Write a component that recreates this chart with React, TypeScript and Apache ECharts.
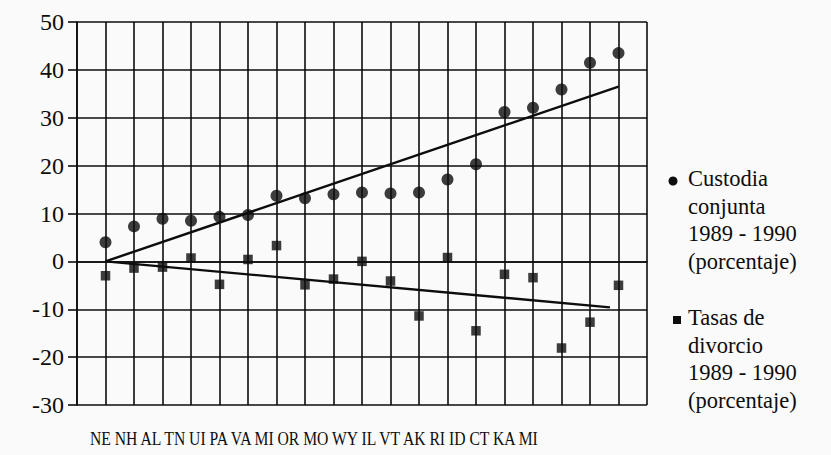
import React, { useEffect, useRef } from "react";
import * as echarts from "echarts";

const categories = ["NE", "NH", "AL", "TN", "UI", "PA", "VA", "MI", "OR", "MO", "WY", "IL", "VT", "AK", "RI", "ID", "CT", "KA", "MI"];
const custodia = [4.0, 7.3, 8.9, 8.5, 9.3, 9.7, 13.7, 13.2, 14.0, 14.4, 14.2, 14.4, 17.1, 20.3, 31.2, 32.1, 35.9, 41.5, 43.5];
const divorcio = [-3.0, -1.4, -1.2, 0.7, -4.8, 0.4, 3.3, -4.9, -3.7, 0.0, -4.1, -11.4, 0.8, -14.5, -2.7, -3.4, -18.1, -12.7, -5.0];
const custodiaTrend = [[1, 0], [19, 36.5]];
const divorcioTrend = [[1, 0], [18.7, -9.6]];
const yMin = -30;
const yMax = 50;
const yStep = 10;
const legendCustodia = ["Custodia", "conjunta", "1989 - 1990", "(porcentaje)"];
const legendDivorcio = ["Tasas de", "divorcio", "1989 - 1990", "(porcentaje)"];

const FONT2 = "'Liberation Serif', 'Times New Roman', serif";
const INK = "#0d0d0d";

export default function App() {
  const ref = useRef<HTMLDivElement>(null);
  useEffect(() => {
    if (!ref.current) return;
    const chart = echarts.init(ref.current, undefined, { renderer: "svg" });
    const lineH = 27.5;
    const legendText = (lines: string[], top: number) =>
      lines.map((t, i) => ({
        type: "text",
        left: 688,
        top: top + i * lineH,
        style: { text: t, fontFamily: FONT2, fontSize: 22.5, fill: INK },
      }));
    chart.setOption({
      animation: false,
      backgroundColor: "#fafafa",
      grid: { left: 77, right: 184, top: 22, bottom: 50 },
      xAxis: {
        type: "value",
        min: 0,
        max: categories.length + 1,
        interval: 1,
        axisLine: { show: true, lineStyle: { color: INK, width: 1.6 } },
        axisTick: { show: false },
        axisLabel: { show: false },
        splitLine: { show: true, lineStyle: { color: INK, width: 1.6 } },
      },
      yAxis: {
        type: "value",
        min: yMin,
        max: yMax,
        interval: yStep,
        axisLine: { show: true, lineStyle: { color: INK, width: 1.6 } },
        axisTick: { show: true, length: 9, lineStyle: { color: INK, width: 1.6 } },
        axisLabel: { margin: 13, fontFamily: FONT2, fontSize: 24, color: INK },
        splitLine: { show: true, lineStyle: { color: INK, width: 1.6 } },
      },
      series: [
        {
          name: "Custodia conjunta",
          type: "scatter",
          symbol: "circle",
          symbolSize: 12,
          itemStyle: { color: INK },
          data: custodia.map((v, i) => [i + 1, v]),
          z: 5,
        },
        {
          name: "Tasas de divorcio",
          type: "scatter",
          symbol: "rect",
          symbolSize: 9.5,
          itemStyle: { color: INK },
          data: divorcio.map((v, i) => [i + 1, v]),
          z: 5,
        },
        {
          type: "line",
          data: custodiaTrend,
          symbol: "none",
          lineStyle: { color: INK, width: 2.4 },
          z: 4,
        },
        {
          type: "line",
          data: divorcioTrend,
          symbol: "none",
          lineStyle: { color: INK, width: 2.4 },
          z: 4,
        },
      ],
      graphic: [
        {
          type: "text",
          left: 90,
          top: 430,
          scaleX: 0.87,
          style: { text: categories.join(" "), fontFamily: FONT2, fontSize: 18, fill: INK },
        },
        { type: "circle", shape: { cx: 673, cy: 181, r: 4.5 }, style: { fill: INK } },
        { type: "rect", shape: { x: 673, y: 316, width: 8, height: 8 }, style: { fill: INK } },
        ...legendText(legendCustodia, 167),
        ...legendText(legendDivorcio, 306),
      ],
    });
    return () => chart.dispose();
  }, []);
  return <div ref={ref} style={{ position: "fixed", left: 0, top: 0, width: 831, height: 455 }} />;
}
